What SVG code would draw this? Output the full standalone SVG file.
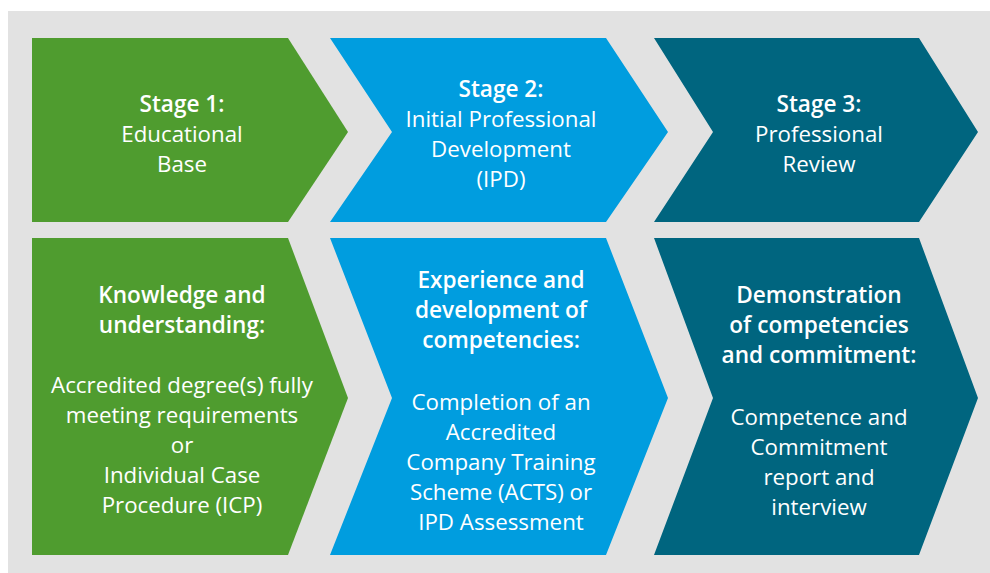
<svg xmlns="http://www.w3.org/2000/svg" width="990" height="573" viewBox="0 0 990 573">
<style>
.bg{fill:#e2e2e2}
.g{fill:#4f9c2f}
.b{fill:#009ddf}
.t{fill:#00657f}
text{font-family:"Open Sans","Noto Sans","Liberation Sans",sans-serif;font-size:22.3px;fill:#ffffff;text-anchor:middle}
.h{font-weight:600;font-size:22.6px}
</style>
<rect width="990" height="573" fill="#ffffff"/>
<rect class="bg" x="8" y="11" width="982" height="562"/>
<g id="stage1">
<path class="g" d="M32,38 H288 L348,132 L288,222 H32 Z"/>
<text x="182" y="112" class="h">Stage 1:</text>
<text x="182" y="142">Educational</text>
<text x="182" y="172">Base</text>
</g>
<g id="stage2">
<path class="b" d="M330,38 H606 L668,132 L606,222 H330 L392,132 Z"/>
<text x="501" y="97" class="h">Stage 2:</text>
<text x="501" y="127">Initial Professional</text>
<text x="501" y="157">Development</text>
<text x="501" y="187">(IPD)</text>
</g>
<g id="stage3">
<path class="t" d="M654,38 H919 L978,132 L919,222 H654 L713,132 Z"/>
<text x="819" y="112" class="h">Stage 3:</text>
<text x="819" y="142">Professional</text>
<text x="819" y="172">Review</text>
</g>
<g id="detail1">
<path class="g" d="M32,238 H288 L348,398 L288,555 H32 Z"/>
<text x="182" y="303" class="h">Knowledge and</text>
<text x="182" y="333" class="h">understanding:</text>
<text x="182" y="393">Accredited degree(s) fully</text>
<text x="182" y="423">meeting requirements</text>
<text x="182" y="453">or</text>
<text x="182" y="483">Individual Case</text>
<text x="182" y="513">Procedure (ICP)</text>
</g>
<g id="detail2">
<path class="b" d="M330,238 H606 L668,398 L606,555 H330 L392,398 Z"/>
<text x="501" y="288" class="h">Experience and</text>
<text x="501" y="318" class="h">development of</text>
<text x="501" y="348" class="h">competencies:</text>
<text x="501" y="410">Completion of an</text>
<text x="501" y="440">Accredited</text>
<text x="501" y="470">Company Training</text>
<text x="501" y="500">Scheme (ACTS) or</text>
<text x="501" y="530">IPD Assessment</text>
</g>
<g id="detail3">
<path class="t" d="M654,238 H919 L978,398 L919,555 H654 L713,398 Z"/>
<text x="819" y="303" class="h">Demonstration</text>
<text x="819" y="333" class="h">of competencies</text>
<text x="819" y="363" class="h">and commitment:</text>
<text x="819" y="425">Competence and</text>
<text x="819" y="455">Commitment</text>
<text x="819" y="485">report and</text>
<text x="819" y="515">interview</text>
</g>
<g id="connectors"></g>
</svg>
